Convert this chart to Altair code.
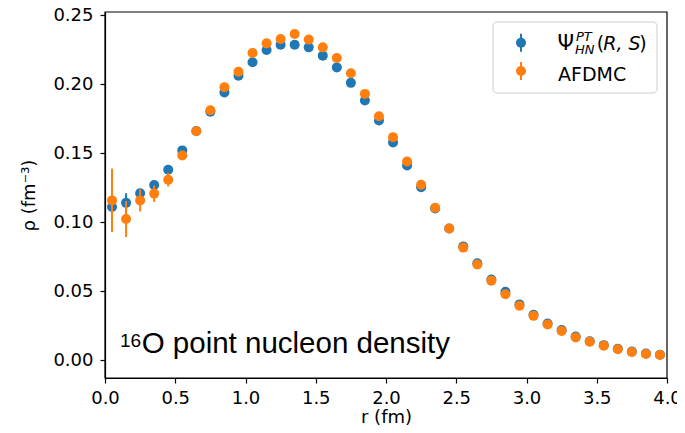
import altair as alt
import pandas as pd

# ---- data ----
r = [0.05, 0.15, 0.25, 0.35, 0.45, 0.55, 0.65, 0.75, 0.85, 0.95,
     1.05, 1.15, 1.25, 1.35, 1.45, 1.55, 1.65, 1.75, 1.85, 1.95,
     2.05, 2.15, 2.25, 2.35, 2.45, 2.55, 2.65, 2.75, 2.85, 2.95,
     3.05, 3.15, 3.25, 3.35, 3.45, 3.55, 3.65, 3.75, 3.85, 3.95]

psi = [0.111, 0.114, 0.121, 0.127, 0.138, 0.152, 0.166, 0.180, 0.194, 0.206,
       0.2158, 0.2247, 0.2285, 0.2285, 0.2266, 0.2206, 0.2121, 0.2009, 0.1881, 0.1736,
       0.1578, 0.1411, 0.1254, 0.1100, 0.0954, 0.0825, 0.0702, 0.0585, 0.0496, 0.0405,
       0.0330, 0.0267, 0.0220, 0.0172, 0.0138, 0.0110, 0.0084, 0.0063, 0.0049, 0.0040]
psi_err = [0.004, 0.007, 0.003, 0.002, 0.002, 0.0015, 0.001, 0.001, 0.001, 0.001,
           0.001, 0.001, 0.001, 0.001, 0.001, 0.001, 0.001, 0.001, 0.001, 0.001,
           0.001, 0.001, 0.001, 0.001, 0.001, 0.001, 0.001, 0.001, 0.001, 0.001,
           0.0005, 0.0005, 0.0005, 0.0005, 0.0005, 0.0005, 0.0005, 0.0005, 0.0005, 0.0005]

afdmc = [0.1158, 0.1023, 0.1158, 0.1207, 0.1308, 0.1483, 0.1659, 0.1810, 0.1977, 0.2090,
         0.2225, 0.2295, 0.2327, 0.2363, 0.2322, 0.2266, 0.2189, 0.2078, 0.1929, 0.1767,
         0.1616, 0.1440, 0.1271, 0.1105, 0.0954, 0.0816, 0.0694, 0.0577, 0.0479, 0.0395,
         0.0322, 0.0260, 0.0212, 0.0166, 0.0134, 0.0106, 0.0080, 0.0060, 0.0046, 0.0038]
afdmc_err = [0.023, 0.013, 0.008, 0.006, 0.005, 0.003, 0.0025, 0.002, 0.002, 0.0015,
             0.0015, 0.0015, 0.0015, 0.0015, 0.0015, 0.0015, 0.0015, 0.0015, 0.0015, 0.0015,
             0.001, 0.001, 0.001, 0.001, 0.001, 0.001, 0.001, 0.001, 0.001, 0.001,
             0.0005, 0.0005, 0.0005, 0.0005, 0.0005, 0.0005, 0.0005, 0.0005, 0.0005, 0.0005]

x_ticks = [0.0, 0.5, 1.0, 1.5, 2.0, 2.5, 3.0, 3.5, 4.0]
y_ticks = [0.00, 0.05, 0.10, 0.15, 0.20, 0.25]

BLUE = "#1f77b4"
ORANGE = "#ff7f0e"
FONT = "DejaVu Sans"
W, H = 562, 366

df_psi = pd.DataFrame({"r": r, "rho": psi, "err": psi_err})
df_afd = pd.DataFrame({"r": r, "rho": afdmc, "err": afdmc_err})

xs = alt.Scale(domain=[0, 4], nice=False, zero=False)
ys = alt.Scale(domain=[-0.0128, 0.2522], nice=False, zero=False)

xaxis = alt.Axis(values=x_ticks, format=".1f", title="r (fm)", grid=False,
                 labelFontSize=18, labelFont=FONT, labelColor="black",
                 titleFontSize=18, titleFont=FONT, titleFontWeight="normal",
                 titleColor="black", tickColor="black", domainColor="black",
                 tickSize=5, tickWidth=1.2, domainWidth=1.2, labelPadding=6,
                 titleY=44, titleBaseline="alphabetic", labelFlush=False)
yaxis = alt.Axis(values=y_ticks, format=".2f", title="ρ (fm⁻³)", grid=False,
                 labelFontSize=18, labelFont=FONT, labelColor="black",
                 titleFontSize=18, titleFont=FONT, titleFontWeight="normal",
                 titleColor="black", tickColor="black", domainColor="black",
                 tickSize=5, tickWidth=1.2, domainWidth=1.2, labelPadding=7,
                 titleX=-76, titleY=H / 2, titleAngle=270, titleBaseline="middle",
                 titleAlign="center", labelFlush=False)

X = alt.X("r:Q", scale=xs, axis=xaxis)


def series_layers(df, color):
    base = alt.Chart(df).transform_calculate(
        lo="datum.rho - datum.err", hi="datum.rho + datum.err")
    bars = base.mark_rule(color=color, strokeWidth=2).encode(
        x=X, y=alt.Y("lo:Q", scale=ys, axis=yaxis), y2="hi:Q")
    pts = base.mark_circle(color=color, size=100, opacity=1).encode(
        x=X, y=alt.Y("rho:Q", scale=ys, axis=yaxis))
    return [bars, pts]


one = pd.DataFrame({"k": [0]})


def txt(s, x, y, size, font=FONT, style="normal", align="left"):
    return alt.Chart(pd.DataFrame({"t": [s]})).mark_text(
        align=align, baseline="alphabetic", font=font, fontSize=size,
        fontStyle=style, color="black").encode(
        text="t:N", x=alt.value(x), y=alt.value(y))


# plot frame (matplotlib spines)
frame = alt.Chart(one).mark_rect(fillOpacity=0, stroke="black", strokeWidth=1.2).encode(
    x=alt.value(0), x2=alt.value(W), y=alt.value(0), y2=alt.value(H))

# legend box
leg_box = alt.Chart(one).mark_rect(fill="white", fillOpacity=0.8, stroke="#cccccc",
                                   strokeWidth=1, cornerRadius=4).encode(
    x=alt.value(388), x2=alt.value(552), y=alt.value(10), y2=alt.value(81))


def leg_glyph(color, yc):
    rule = alt.Chart(one).mark_rule(color=color, strokeWidth=2).encode(
        x=alt.value(416), y=alt.value(yc - 9), y2=alt.value(yc + 9))
    dot = alt.Chart(one).mark_circle(color=color, size=100, opacity=1).encode(
        x=alt.value(416), y=alt.value(yc))
    return [rule, dot]


legend = [leg_box] + leg_glyph(BLUE, 30.7) + leg_glyph(ORANGE, 59) + [
    txt("Ψ", 452.5, 38, 21),
    txt("PT", 471, 29, 13, style="italic"),
    txt("HN", 470, 42, 13, style="italic"),
    txt("(", 491.7, 38, 19),
    txt("R, S", 517, 38, 19, style="italic", align="center"),
    txt(")", 541.7, 38, 19, align="right"),
    txt("AFDMC", 453, 69, 19),
]

annot = [
    txt("16", 15, 334.5, 19, font="Liberation Sans"),
    txt("O point nucleon density", 36.7, 341.3, 29.5, font="Liberation Sans"),
]

layers = series_layers(df_psi, BLUE) + series_layers(df_afd, ORANGE) + [frame] + legend + annot

chart = alt.layer(*layers).properties(
    width=W, height=H,
    background="white",
    autosize=alt.AutoSizeParams(type="none"),
    padding={"left": 97, "top": 4, "right": 10, "bottom": 47},
).configure_view(strokeWidth=0)

chart.save("out.html", embed_options={"renderer": "svg", "actions": False})
